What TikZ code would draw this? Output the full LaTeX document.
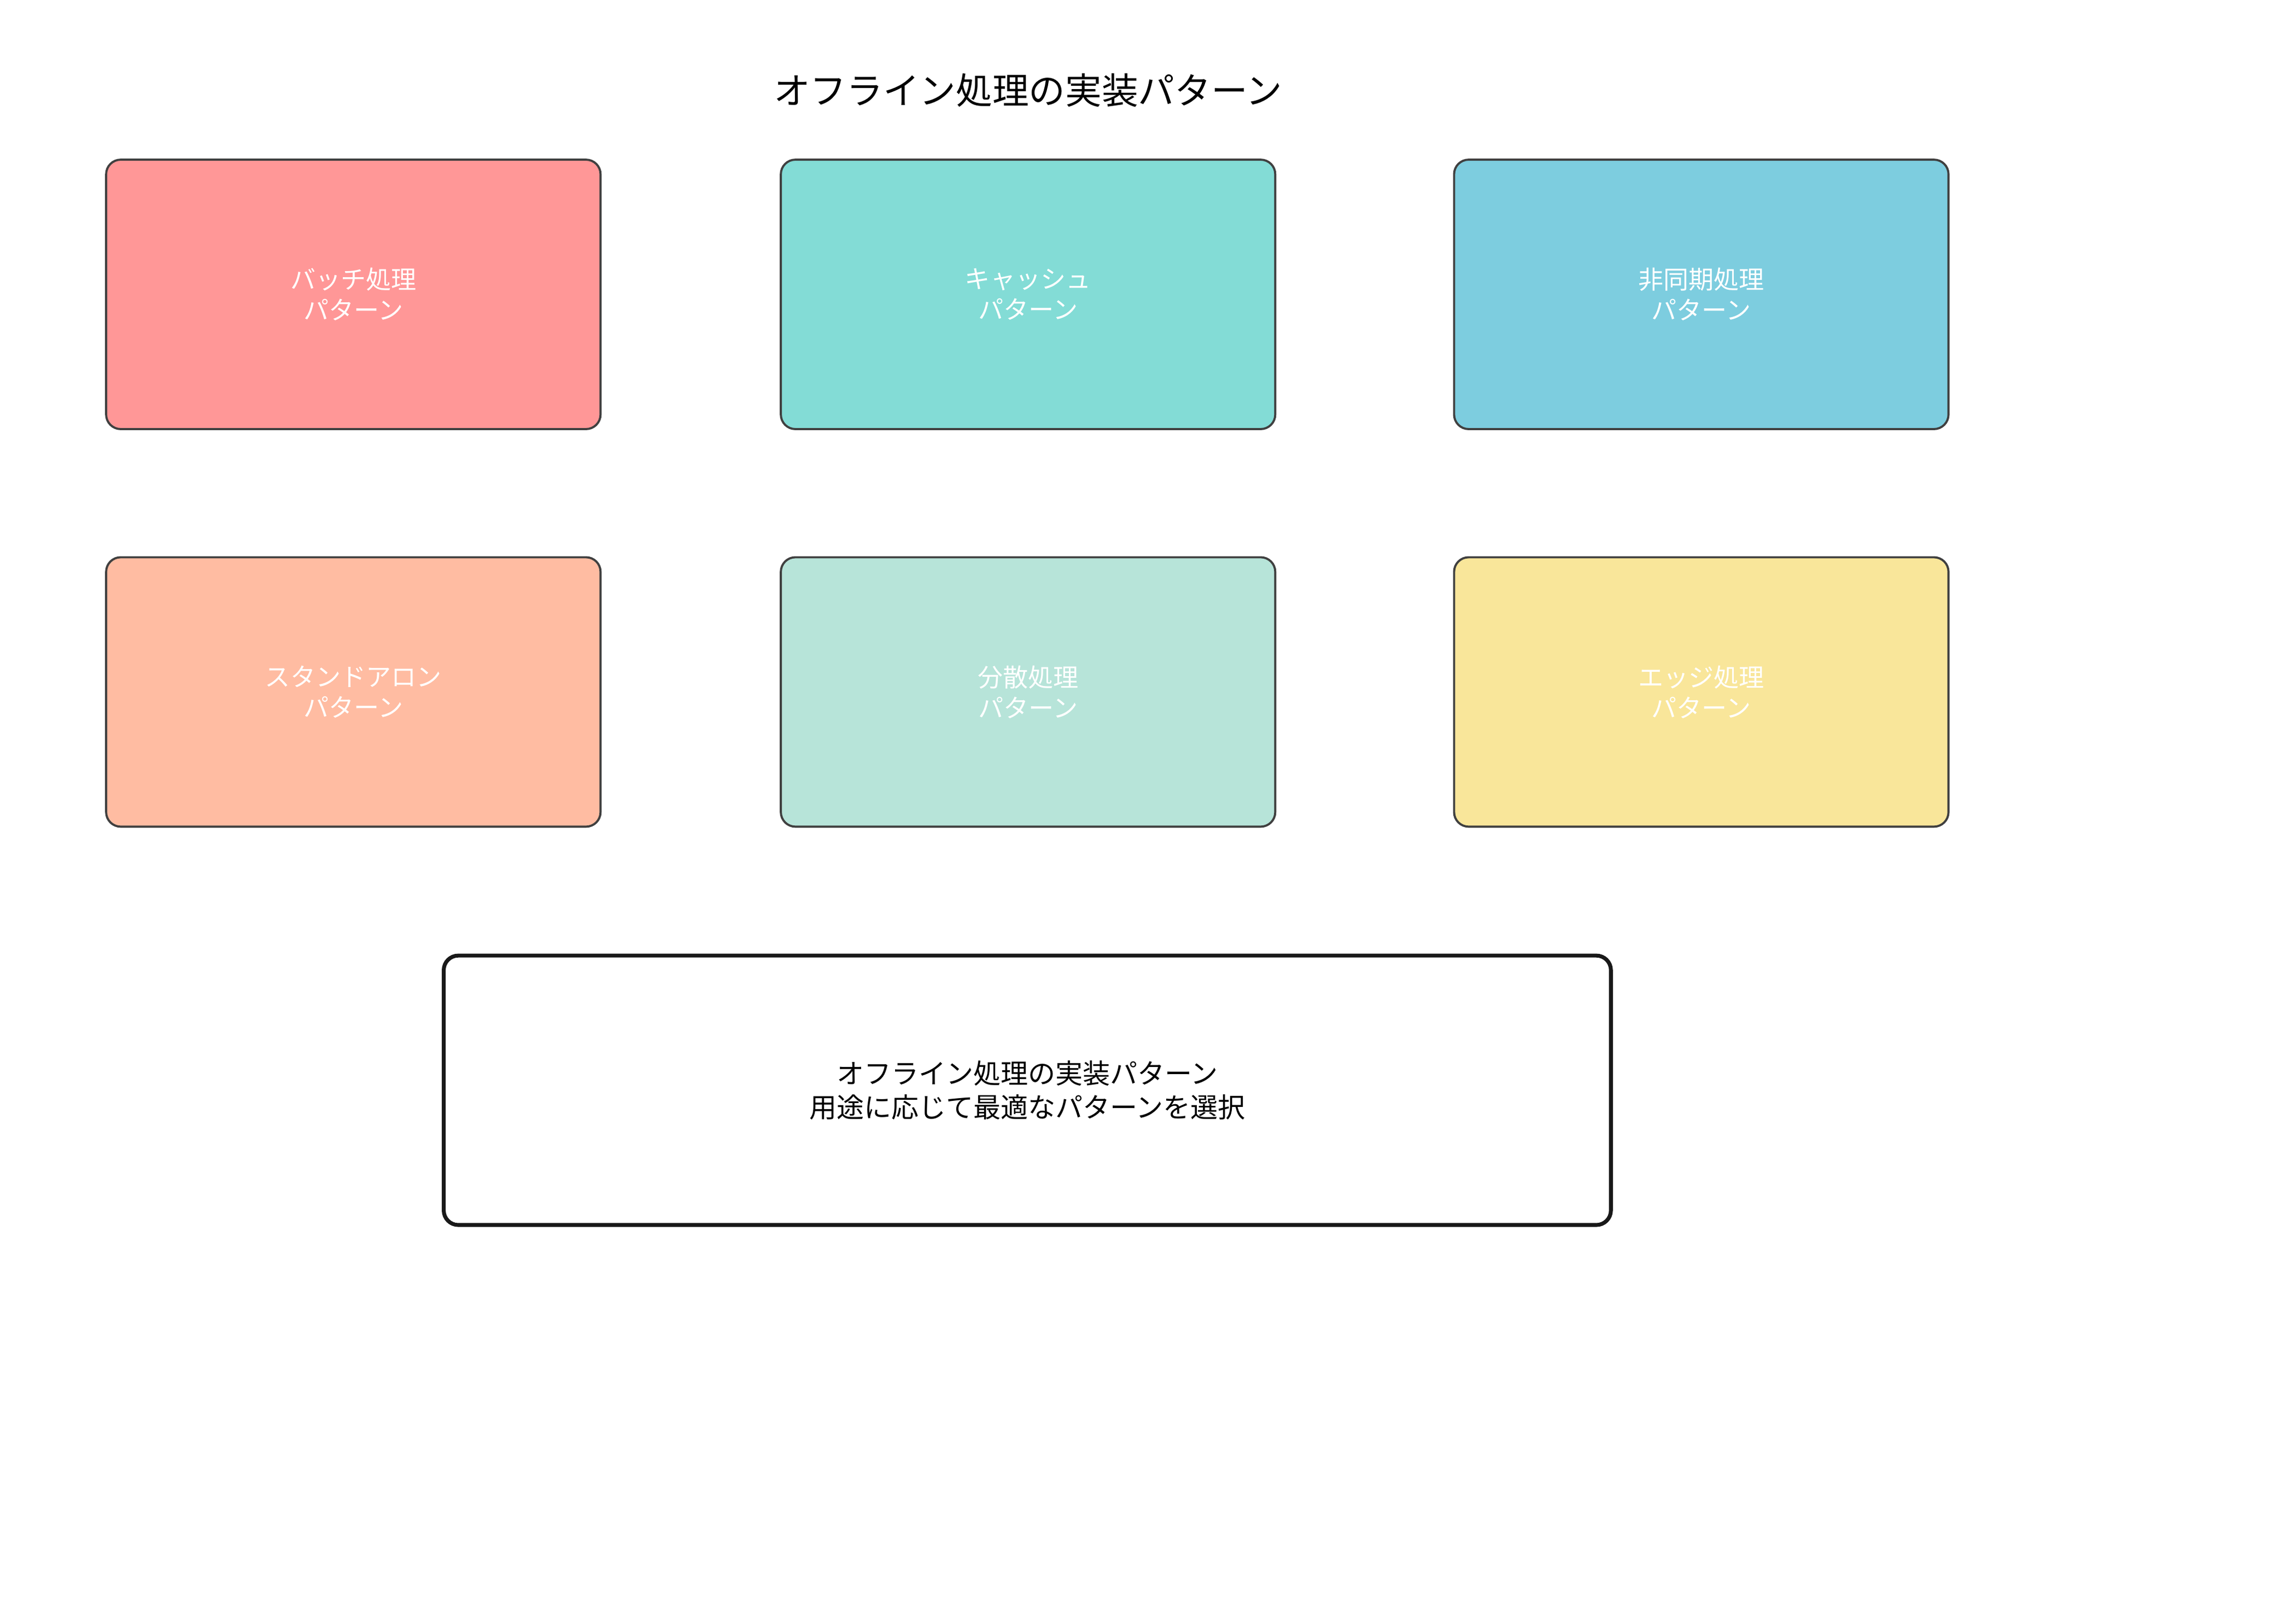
\documentclass[tikz,border=0pt]{standalone}
\usepackage{fontspec}
\setmainfont{Noto Sans CJK JP}
\usepackage{tikz}

\definecolor{batchred}{HTML}{FF9797}
\definecolor{cacheteal}{HTML}{83DCD6}
\definecolor{asyncblue}{HTML}{7DCDDF}
\definecolor{alonesalmon}{HTML}{FFBCA2}
\definecolor{distmint}{HTML}{B7E4D9}
\definecolor{edgeyellow}{HTML}{F9E69A}
\definecolor{boxline}{HTML}{404040}

\tikzset{
  pattbox/.style={draw=boxline, line width=1.1pt, rounded corners=7.5pt,
    minimum width=255pt, minimum height=139pt, align=center, text=white,
    font=\fontsize{13}{15.75}\selectfont},
  summbox/.style={draw=black!90, line width=2pt, rounded corners=7.5pt, fill=white,
    minimum width=602pt, minimum height=139pt, align=center,
    font=\fontsize{14.1}{17.25}\selectfont}
}

\begin{document}
\begin{tikzpicture}[x=0.75pt, y=-0.75pt]
\useasboundingbox[fill=white] (0,0) rectangle (1568,1117);
%\draw[help lines, color=gray!30, dashed] (0,0) grid[step=100] (1568,1117);
\node (title) at (707,62) {\fontsize{18.8}{22}\selectfont オフライン処理の実装パターン};
% first row
\node[pattbox, fill=batchred] (batch) at (243,202.5) {バッチ処理\\パターン};
\node[pattbox, fill=cacheteal] (cache) at (707,202.5) {キャッシュ\\パターン};
\node[pattbox, fill=asyncblue] (async) at (1170,202.5) {非同期処理\\パターン};
% second row
\node[pattbox, fill=alonesalmon] (alone) at (243,476) {スタンドアロン\\パターン};
\node[pattbox, fill=distmint] (dist) at (707,476) {分散処理\\パターン};
\node[pattbox, fill=edgeyellow] (edge) at (1170,476) {エッジ処理\\パターン};
% summary
\node[summbox] (summary) at (706.5,750) {オフライン処理の実装パターン\\用途に応じて最適なパターンを選択};
\end{tikzpicture}
\end{document}
